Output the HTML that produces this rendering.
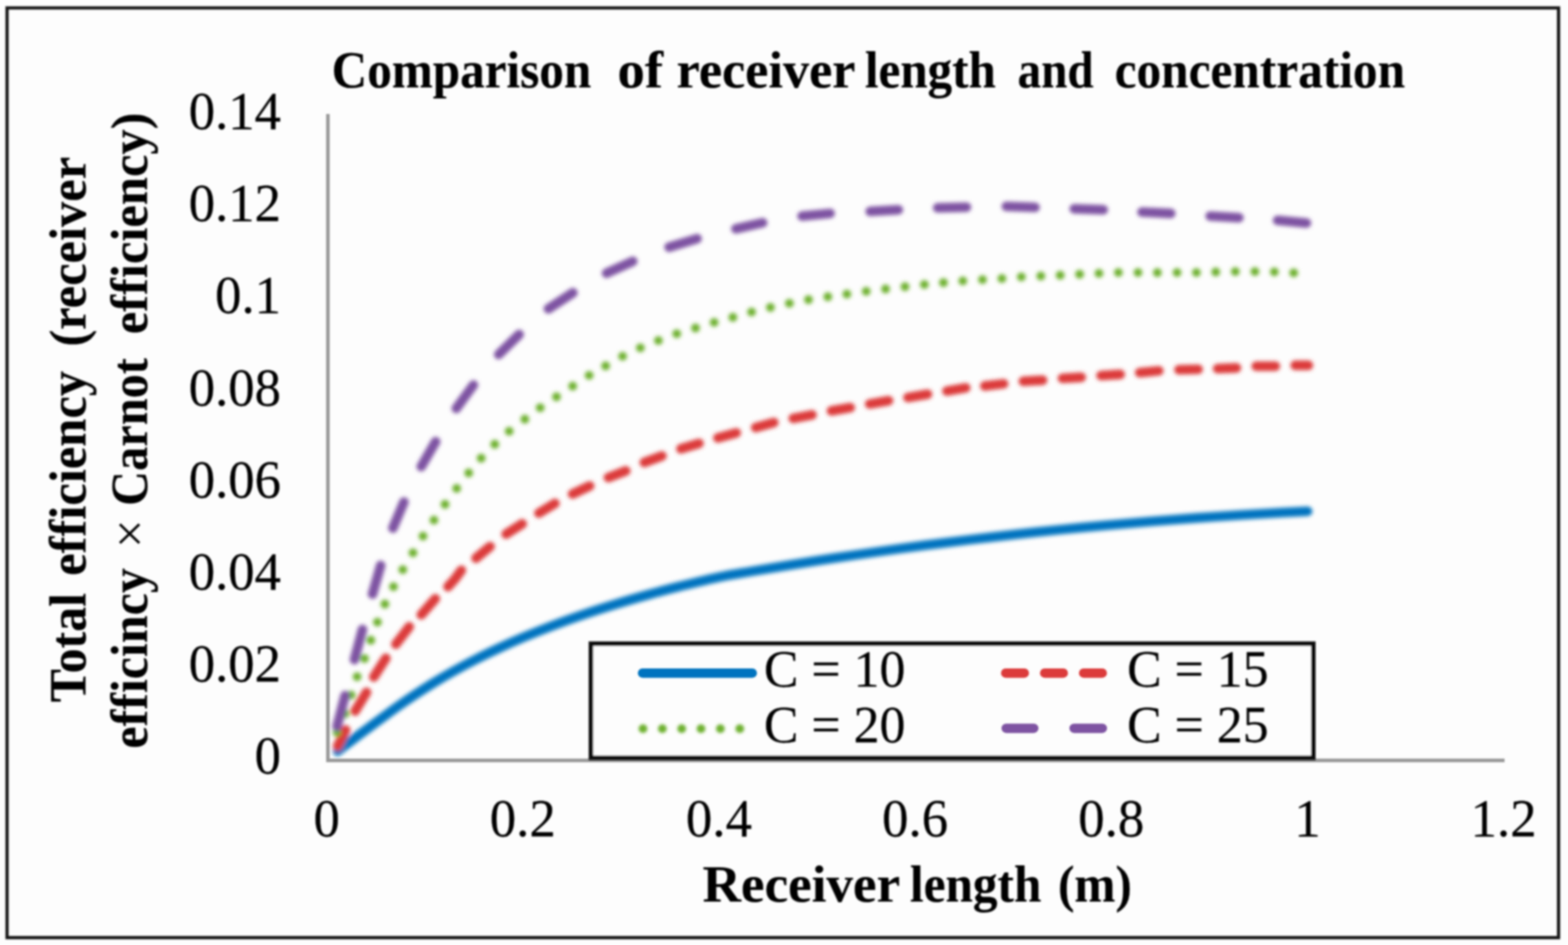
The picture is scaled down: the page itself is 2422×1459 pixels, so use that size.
<!DOCTYPE html>
<html lang="en">
<head>
<meta charset="utf-8">
<title>Comparison of receiver length and concentration</title>
<style>
html,body{margin:0;padding:0;background:#fdfdfd;}
body{width:2422px;height:1459px;overflow:hidden;}
svg{display:block;}
</style>
</head>
<body>
<svg xmlns="http://www.w3.org/2000/svg" width="2422" height="1459" viewBox="0 0 2422 1459">
<defs><filter id="soft" filterUnits="userSpaceOnUse" x="0" y="0" width="2422" height="1459"><feGaussianBlur stdDeviation="1.6"/></filter><filter id="fc" filterUnits="userSpaceOnUse" x="0" y="0" width="2422" height="1459"><feGaussianBlur stdDeviation="3.0"/></filter><filter id="fl" filterUnits="userSpaceOnUse" x="0" y="0" width="2422" height="1459"><feGaussianBlur stdDeviation="1.75"/></filter><filter id="fd" filterUnits="userSpaceOnUse" x="0" y="0" width="2422" height="1459"><feGaussianBlur stdDeviation="2.5"/></filter></defs>
<rect x="0" y="0" width="2422" height="1459" fill="#fdfdfd"/>
<g filter="url(#soft)">
<rect x="10.9" y="12.2" width="2396.5" height="1435.4" fill="none" stroke="#171717" stroke-width="5"/>
<path d="M506.5 176V1174H2324" fill="none" stroke="#979797" stroke-width="5.4"/>
</g>
<g filter="url(#fc)" fill="none" stroke-width="14.8" stroke-linecap="round" stroke-linejoin="round">
<path d="M521.5 1159.8C523.8 1158.1 530.2 1153.0 535.0 1149.4C539.8 1145.8 544.2 1142.4 550.0 1138.0C555.8 1133.6 563.3 1128.1 570.0 1123.2C576.7 1118.3 582.5 1114.0 590.0 1108.5C597.5 1103.0 606.7 1096.2 615.0 1090.3C623.3 1084.4 630.8 1079.2 640.0 1073.2C649.2 1067.2 660.0 1060.2 670.0 1054.1C680.0 1048.0 689.2 1042.6 700.0 1036.6C710.8 1030.6 723.3 1023.9 735.0 1018.0C746.7 1012.1 757.5 1006.8 770.0 1001.0C782.5 995.2 796.7 988.9 810.0 983.3C823.3 977.7 835.0 973.0 850.0 967.3C865.0 961.6 883.3 954.9 900.0 949.2C916.7 943.5 933.3 938.2 950.0 933.1C966.7 928.0 983.3 923.1 1000.0 918.5C1016.7 913.9 1031.3 909.9 1050.0 905.3C1068.7 900.7 1093.7 894.5 1112.0 890.7C1130.3 886.9 1142.0 885.3 1160.0 882.3C1178.0 879.2 1198.3 875.9 1220.0 872.4C1241.7 868.9 1266.7 864.9 1290.0 861.4C1313.3 857.9 1336.7 854.5 1360.0 851.2C1383.3 847.9 1406.7 844.7 1430.0 841.7C1453.3 838.7 1476.7 835.8 1500.0 833.0C1523.3 830.2 1546.7 827.5 1570.0 824.9C1593.3 822.3 1616.7 819.8 1640.0 817.5C1663.3 815.2 1686.7 813.0 1710.0 810.9C1733.3 808.8 1756.7 806.8 1780.0 804.9C1803.3 803.0 1826.7 801.2 1850.0 799.5C1873.3 797.8 1898.3 796.2 1920.0 794.9C1941.7 793.5 1963.4 792.3 1980.0 791.4C1996.6 790.5 2013.2 789.7 2019.8 789.4" stroke="#0673BF"/>
<path d="M521.5 1152L534 1127M548.5 1097.8 L557.4 1083.3 L566.1 1068.9M577.4 1045.2 L586.7 1030.7 L596.0 1016.3M611.5 994.6 L621.8 981.2 L632.1 967.7M650.7 949.2 L661.4 936.8 L672.4 924.4M692.0 905.8 L702.3 894.5 L712.6 880.5M735.3 861.8 L757.0 843.8M781.8 824.6 L806.6 808.7M832.4 792.2 L857.1 777.2M884.4 762.7 L910.8 750.3M939.7 737.3 L966.6 727.0M995.2 714.0 L1022.4 704.0M1051.8 692.9 L1079.7 684.6M1108.9 676.1 L1137.2 668.3M1167.3 660.1 L1195.2 652.3M1225.3 646.0 L1254.2 640.5M1284.3 634.4 L1313.3 629.3M1343.4 623.7 L1372.4 618.6M1402.5 613.7 L1432.6 608.6M1462.7 603.7 L1491.7 598.8M1521.2 595.9 L1550.2 592.5M1580.7 588.7 L1610.4 587.0M1641.1 584.1 L1670.1 582.5M1700.7 579.8 L1730.3 578.0M1760.4 575.4 L1789.9 572.5M1821.1 570.9 L1850.7 570.2M1880.8 569.1 L1909.8 568.0M1940.4 565.3 L1970.0 565.3M2000.6 564.0 L2021.0 564.0" stroke="#DC3A3A"/>
<path d="M520.6 1130.8h0.01M533.0 1101.9h0.01M542.3 1073.0h0.01M551.6 1044.7h0.01M563.0 1016.7h0.01M572.7 988.4h0.01M583.0 960.5h0.01M594.5 932.6h0.01M607.8 905.8h0.01M622.2 879.5h0.01M637.9 853.5h0.01M653.4 827.7h0.01M670.3 803.0h0.01M687.4 778.6h0.01M705.4 754.0h0.01M724.0 730.1h0.01M743.2 707.4h0.01M764.2 685.9h0.01M786.5 665.7h0.01M810.7 647.1h0.01M834.4 629.5h0.01M859.6 612.6h0.01M884.6 596.1h0.01M910.0 579.5h0.01M935.5 564.9h0.01M961.7 550.0h0.01M989.1 537.0h0.01M1017.0 525.7h0.01M1045.3 515.3h0.01M1074.3 506.4h0.01M1103.1 497.7h0.01M1132.0 489.9h0.01M1160.9 481.8h0.01M1190.0 474.6h0.01M1219.3 468.2h0.01M1248.8 462.6h0.01M1278.7 458.1h0.01M1308.1 454.0h0.01M1338.0 449.8h0.01M1367.9 446.1h0.01M1397.9 442.6h0.01M1427.8 439.3h0.01M1457.3 436.4h0.01M1487.2 433.7h0.01M1517.6 431.7h0.01M1547.6 430.0h0.01M1577.6 427.5h0.01M1607.7 426.1h0.01M1637.6 424.9h0.01M1667.6 423.4h0.01M1697.5 422.0h0.01M1727.5 420.7h0.01M1757.8 420.7h0.01M1787.7 420.9h0.01M1818.1 420.7h0.01M1848.0 420.7h0.01M1877.9 419.9h0.01M1908.1 419.3h0.01M1938.4 419.3h0.01M1968.4 419.7h0.01M1998.3 421.3h0.01" stroke="#6DB02E" stroke-width="13.6"/>
<path d="M520.6 1121.5L533.0 1074.0M547.5 1018.3L559.9 971.9M575.4 917.2L588.0 873.0M606.9 815.3L623.9 775.1M650.7 720.4L673.0 681.8M704.8 630.6L731.2 594.5M770.3 547.3L801.9 516.4M847.1 476.7L884.9 452.0M936.9 421.8L977.4 403.5M1033.5 381.6L1076.7 368.5M1136.7 353.2L1178.0 343.9M1238.9 333.6L1282.2 329.5M1344.2 326.4L1387.5 323.9M1448.4 320.8L1492.8 319.8M1554.5 318.7L1598.8 320.2M1659.3 322.3L1704.1 323.9M1764.0 327.4L1808.4 329.5M1869.3 333.6L1913.7 336.1M1973.5 340.2L2017.9 344.3" stroke="#7E52A2"/>
</g>
<rect filter="url(#soft)" x="912.8" y="993.8" width="1115.8" height="176.2" fill="#fdfdfd" stroke="#0c0c0c" stroke-width="7"/>
<g filter="url(#fl)" fill="none" stroke-width="14.5" stroke-linecap="round">
<path d="M992.5 1039.2H1162" stroke="#0673BF"/>
<path d="M1553.4 1039.2h28.8M1613.6 1039.2h28.8M1673.8 1039.2h28.8" stroke="#DC3A3A"/>
<path d="M1554.2 1124.4h42.6M1659.1 1124.4h43.6" stroke="#7E52A2"/>
</g>
<path filter="url(#fd)" fill="none" stroke-linecap="round" stroke-width="13.6" d="M993.2 1125h0.01M1023.1 1125h0.01M1053.0 1125h0.01M1082.8 1125h0.01M1112.7 1125h0.01M1142.7 1125h0.01" stroke="#6DB02E"/>
<g filter="url(#soft)">
<g font-family="'Liberation Serif', serif" font-size="80" fill="#000" stroke="#000" stroke-width="0.3" stroke-linejoin="round">
<g font-weight="bold" stroke-width="0.2">
<text transform="translate(512.3 134.5) scale(0.9498 1)">Comparison</text>
<text transform="translate(953.7 134.5) scale(1.0586 1)">of</text>
<text transform="translate(1045.0 134.5) scale(1.0099 1)">receiver</text>
<text transform="translate(1335.9 134.5) scale(0.9486 1)">length</text>
<text transform="translate(1571.8 134.5) scale(0.9110 1)">and</text>
<text transform="translate(1721.7 134.5) scale(0.9525 1)">concentration</text>
<text transform="translate(1085.3 1391.5) scale(1.0257 1)">Receiver</text>
<text transform="translate(1405.5 1391.5) scale(0.9514 1)">length</text>
<text transform="translate(1634.2 1391.5) scale(0.9516 1)">(m)</text>
<text transform="translate(132.0 1084.2) rotate(-90) scale(0.9643 1)">Total</text>
<text transform="translate(132.0 889.1) rotate(-90) scale(0.9762 1)">efficiency</text>
<text transform="translate(132.0 535.1) rotate(-90) scale(0.9751 1)">(receiver</text>
<text transform="translate(227.2 1155.7) rotate(-90) scale(0.9642 1)">efficincy</text>
<text font-weight="normal" stroke-width="0" transform="translate(227.2 846.0) rotate(-90) scale(0.9765 1)">×</text>
<text transform="translate(227.2 780.9) rotate(-90) scale(0.9336 1)">Carnot</text>
<text transform="translate(227.2 516.1) rotate(-90) scale(0.9761 1)">efficiency)</text>
</g>
<text x="434" y="199.2" text-anchor="end" font-size="81.5">0.14</text>
<text x="434" y="341.3" text-anchor="end" font-size="81.5">0.12</text>
<text x="434" y="483.4" text-anchor="end" font-size="81.5">0.1</text>
<text x="434" y="625.5" text-anchor="end" font-size="81.5">0.08</text>
<text x="434" y="767.6" text-anchor="end" font-size="81.5">0.06</text>
<text x="434" y="909.7" text-anchor="end" font-size="81.5">0.04</text>
<text x="434" y="1051.8" text-anchor="end" font-size="81.5">0.02</text>
<text x="434" y="1193.9" text-anchor="end" font-size="81.5">0</text>
<text x="504.5" y="1291.3" text-anchor="middle" font-size="81.5">0</text>
<text x="807.5" y="1291.3" text-anchor="middle" font-size="81.5">0.2</text>
<text x="1110.5" y="1291.3" text-anchor="middle" font-size="81.5">0.4</text>
<text x="1413.5" y="1291.3" text-anchor="middle" font-size="81.5">0.6</text>
<text x="1716.5" y="1291.3" text-anchor="middle" font-size="81.5">0.8</text>
<text x="2019.5" y="1291.3" text-anchor="middle" font-size="81.5">1</text>
<text x="2322.5" y="1291.3" text-anchor="middle" font-size="81.5">1.2</text>
<text x="1180" y="1060">C = 10</text>
<text x="1741" y="1060">C = 15</text>
<text x="1180" y="1146">C = 20</text>
<text x="1741" y="1146">C = 25</text>
</g>
</g>
</svg>
</body>
</html>
